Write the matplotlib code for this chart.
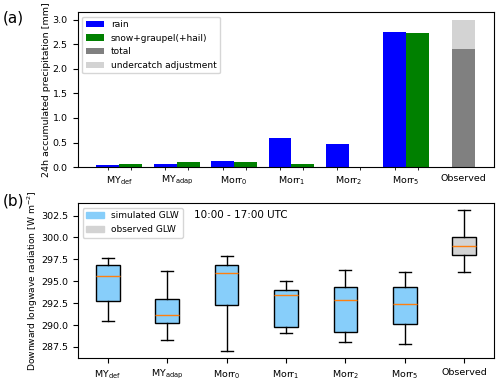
import matplotlib.pyplot as plt
import numpy as np
from matplotlib.patches import Patch

# Panel (a): 24h accumulated precipitation [mm]
models = ['MY$_{\\mathrm{def}}$', 'MY$_{\\mathrm{adap}}$', 'Morr$_{0}$', 'Morr$_{1}$',
          'Morr$_{2}$', 'Morr$_{5}$']
rain = [0.05, 0.07, 0.12, 0.59, 0.48, 2.75]
snow = [0.06, 0.10, 0.11, 0.07, 0.0, 2.73]
obs_total = 2.40
obs_undercatch = 0.60

# Panel (b): box statistics (whisker low, q1, median, q3, whisker high)
glw_labels = models + ['Observed']
glw_whislo = [290.5, 288.3, 287.0, 289.1, 288.1, 287.8, 296.1]
glw_q1 = [292.7, 290.2, 292.3, 289.8, 289.2, 290.1, 298.0]
glw_med = [295.6, 291.1, 296.0, 293.4, 292.9, 292.4, 299.0]
glw_q3 = [296.8, 293.0, 296.8, 294.0, 294.3, 294.3, 300.0]
glw_whishi = [297.7, 296.2, 297.9, 295.0, 296.3, 296.1, 303.1]

plt.rcParams['font.size'] = 6.8

fig = plt.figure(figsize=(5, 3.8), dpi=100)
ax1 = fig.add_axes([0.155, 0.56, 0.833, 0.408])
ax2 = fig.add_axes([0.156, 0.057, 0.832, 0.408])

# --- (a) bars
x = np.arange(len(models))
w = 0.4
ax1.bar(x - w / 2, rain, w, color='blue', label='rain')
ax1.bar(x + w / 2, snow, w, color='green', label='snow+graupel(+hail)')
xo = len(models)
ax1.bar(xo, obs_total, w, color='gray', label='total')
ax1.bar(xo, obs_undercatch, w, bottom=obs_total, color='lightgray',
        label='undercatch adjustment')
ax1.set_xticks(list(x) + [xo])
ax1.set_xticklabels(models + ['Observed'])
ax1.tick_params(axis='x', which='major', length=0, pad=5)
minor = list(x - w / 2) + list(x + w / 2) + [xo]
ax1.set_xticks(minor, minor=True)
ax1.set_ylabel('24h accumulated precipitation [mm]', fontsize=6.8, labelpad=1)
ax1.legend(loc='upper left', fontsize=6.5)
fig.text(0.005, 0.972, '(a)', fontsize=11, va='top')

# --- (b) boxes
stats = []
for i in range(len(glw_labels)):
    stats.append(dict(whislo=glw_whislo[i], q1=glw_q1[i], med=glw_med[i],
                      q3=glw_q3[i], whishi=glw_whishi[i], fliers=[]))
bp = ax2.bxp(stats, positions=np.arange(1, len(glw_labels) + 1), widths=0.4,
             patch_artist=True, showfliers=False)
for i, patch in enumerate(bp['boxes']):
    patch.set_facecolor('lightgray' if i == len(glw_labels) - 1 else 'lightskyblue')
ax2.set_xticks(np.arange(1, len(glw_labels) + 1))
ax2.set_xticklabels(glw_labels)
ax2.set_ylabel('Downward longwave radiation [W m$^{-2}$]', fontsize=6.6, labelpad=1)
ax2.legend(handles=[Patch(color='lightskyblue', label='simulated GLW'),
                    Patch(color='lightgray', label='observed GLW')],
           loc='upper left', fontsize=6.5)
ax2.text(0.28, 0.925, '10:00 - 17:00 UTC', transform=ax2.transAxes,
         fontsize=7.5, va='center')
fig.text(0.005, 0.49, '(b)', fontsize=11, va='top')

fig.savefig('out.png', dpi=100)
